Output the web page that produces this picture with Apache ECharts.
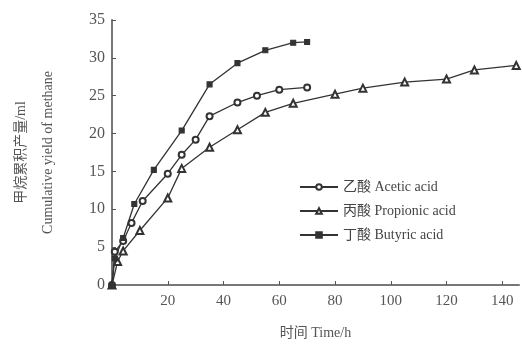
<!DOCTYPE html>
<html>
<head>
<meta charset="utf-8">
<script src="https://cdn.jsdelivr.net/npm/echarts@6/dist/echarts.min.js"></script>
<style>
  html, body { margin: 0; padding: 0; background: #fff; }
  #main_chart { width: 522px; height: 345px; }
</style>
</head>
<body>
<div id="main_chart"></div>
<script>
    // time (h) and cumulative methane yield (ml)
    var aceticTime = [0, 1, 4, 7, 11, 20, 25, 30, 35, 45, 52, 60, 70];
    var aceticYield = [0, 4.4, 5.8, 8.2, 11.1, 14.7, 17.2, 19.2, 22.3, 24.1, 25.0, 25.8, 26.1];

    var propionicTime = [0, 2, 4, 10, 20, 25, 35, 45, 55, 65, 80, 90, 105, 120, 130, 145];
    var propionicYield = [0, 3.1, 4.5, 7.2, 11.5, 15.4, 18.2, 20.5, 22.8, 24.0, 25.2, 26.0, 26.8, 27.2, 28.4, 29.0];

    var butyricTime = [0, 1, 4, 8, 15, 25, 35, 45, 55, 65, 70];
    var butyricYield = [0, 3.5, 6.2, 10.7, 15.2, 20.4, 26.5, 29.3, 31.0, 32.0, 32.1];

    var seriesNames = ['乙酸 Acetic acid', '丙酸 Propionic acid', '丁酸 Butyric acid'];
    var seriesSymbols = ['emptyCircle', 'emptyTriangle', 'rect'];
    var seriesSizes = [6, 7, 5];

    var pairUp = function(xs, ys){
        var out = [];
        for(var i = 0; i < xs.length; i++){
            out.push([xs[i], ys[i]]);
        }
        return out;
    };

    var seriesData = [
        pairUp(aceticTime, aceticYield),
        pairUp(propionicTime, propionicYield),
        pairUp(butyricTime, butyricYield)
    ];

    var fontFam = '"Liberation Serif", "Noto Sans CJK SC", serif';
    var ink = '#333';

    var rqtDataSet = [];
    for(var k = 0; k < seriesNames.length; k++){
        rqtDataSet.push({
            name: seriesNames[k],
            type: 'line',
            data: seriesData[k],
            symbol: seriesSymbols[k],
            symbolSize: seriesSizes[k],
            showAllSymbol: true,
            itemStyle: { color: ink, borderColor: ink, borderWidth: 1.1 },
            lineStyle: { color: ink, width: 1.3 },
            emphasis: { disabled: true },
            animation: false
        });
    }

    var chartOpt = {
        backgroundColor: '#fff',
        animation: false,
        grid: { left: 102, top: 20, width: 417, bottom: 58 },
        legend: {
            data: seriesNames,
            orient: 'vertical',
            left: 294,
            top: 175,
            itemWidth: 38,
            itemHeight: 7,
            itemGap: 10,
            textStyle: { fontFamily: fontFam, fontSize: 14, color: '#444' }
        },
        xAxis: {
            type: 'value',
            min: 0,
            max: 146,
            interval: 20,
            name: '时间 Time/h',
            nameLocation: 'middle',
            nameGap: 41,
            nameTextStyle: { fontFamily: fontFam, fontSize: 14, color: '#555' },
            axisLine: { lineStyle: { color: '#777', width: 2 } },
            axisTick: { inside: true, length: 4, lineStyle: { color: '#555' } },
            splitLine: { show: false },
            axisLabel: {
                fontFamily: fontFam, fontSize: 15, color: '#555', margin: 9,
                formatter: function(v){ return v === 0 ? '' : v; }
            }
        },
        yAxis: {
            type: 'value',
            min: 0,
            max: 35,
            interval: 5,
            name: '甲烷累积产量/ml\nCumulative yield of methane',
            nameLocation: 'middle',
            nameRotate: 90,
            nameGap: 50,
            nameTextStyle: { fontFamily: fontFam, fontSize: 14, color: '#555', lineHeight: 27 },
            axisLine: { show: true, lineStyle: { color: '#777', width: 2 } },
            axisTick: { show: true, inside: true, length: 4, lineStyle: { color: '#555' } },
            splitLine: { show: false },
            axisLabel: { fontFamily: fontFam, fontSize: 16, color: '#555', margin: 7 }
        },
        series: rqtDataSet
    };

    var main_chart = echarts.init(document.getElementById('main_chart'));
    main_chart.setOption(chartOpt);
</script>
</body>
</html>
